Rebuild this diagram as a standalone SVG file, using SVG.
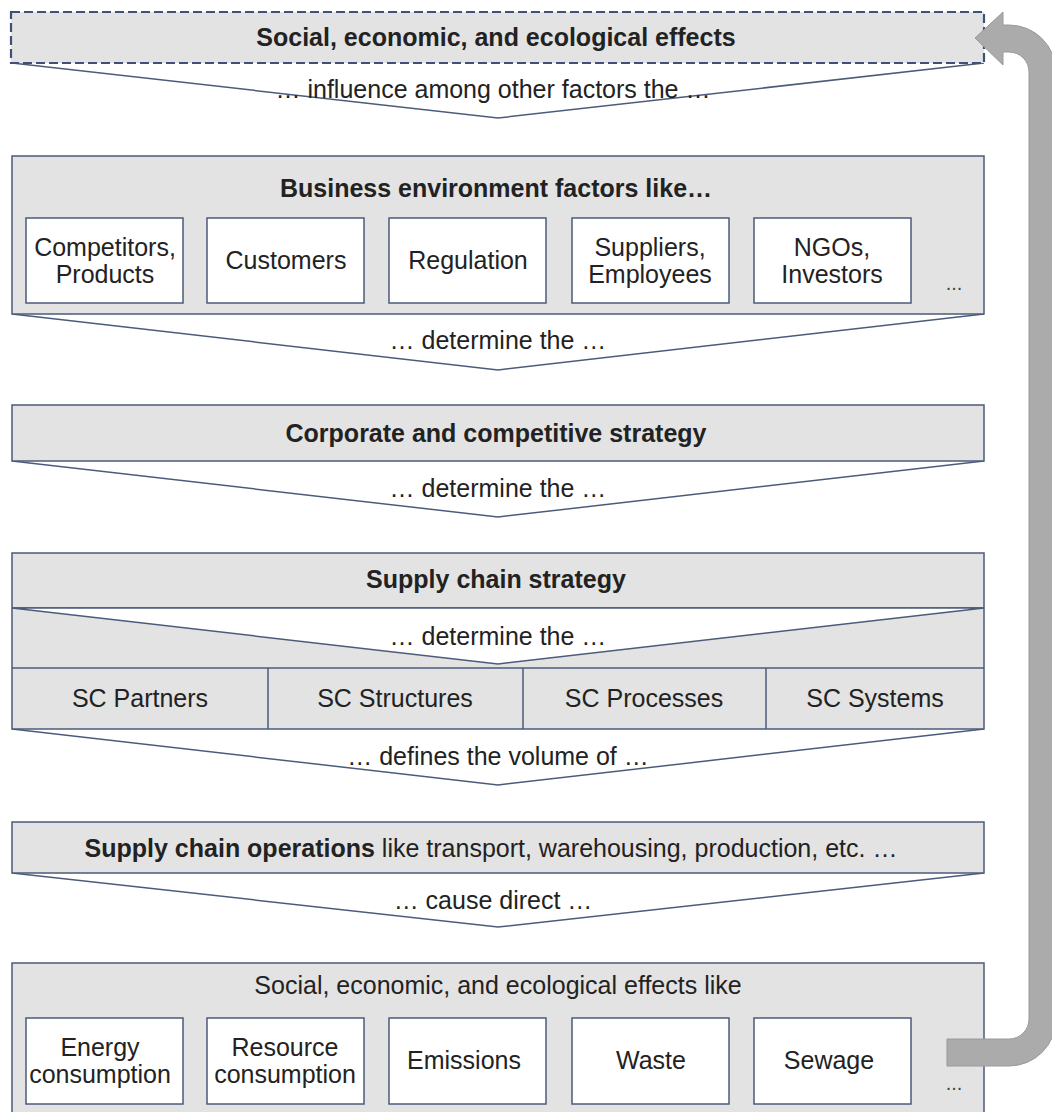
<svg xmlns="http://www.w3.org/2000/svg" width="1052" height="1112" viewBox="0 0 1052 1112">
  <style>
    .box { fill: #e3e3e3; stroke: #4b5b7a; stroke-width: 1.5; }
    .dash { fill: #e3e3e3; stroke: #3f5179; stroke-width: 2.2; stroke-dasharray: 9 4; }
    .item { fill: #ffffff; stroke: #4b5b7a; stroke-width: 1.5; }
    .line { fill: none; stroke: #4b5b7a; stroke-width: 1.5; }
    .chev { fill: #ffffff; stroke: #4b5b7a; stroke-width: 1.5; }
    text { font-family: "Liberation Sans", Arial, sans-serif; font-size: 25px; fill: #222222; text-anchor: middle; }
    .b { font-weight: bold; }
    .dots { font-size: 20px; fill: #444444; }
    .arrow { fill: #ababab; stroke: #9a9a9a; stroke-width: 1; }
  </style>

  <!-- downward chevrons between the layers -->
  <g id="connectors">
    <polyline class="chev" points="12,63 498,118 984,63"/>
    <polyline class="chev" points="12,314 498,370 984,314"/>
    <polyline class="chev" points="12,461 498,517 984,461"/>
    <polyline class="chev" points="12,729 498,785 984,729"/>
    <polyline class="chev" points="12,873 498,927 984,873"/>
    <text x="493" y="98">… influence among other factors the …</text>
    <text x="498" y="349">… determine the …</text>
    <text x="498" y="497">… determine the …</text>
    <text x="498" y="765">… defines the volume of …</text>
    <text x="493" y="909">… cause direct …</text>
  </g>

  <!-- top layer: effects fed back -->
  <g id="effects-top">
    <rect class="dash" x="11" y="12" width="973" height="51"/>
    <text class="b" x="496" y="46">Social, economic, and ecological effects</text>
  </g>

  <!-- business environment -->
  <g id="business-environment">
    <rect class="box" x="12" y="156" width="972" height="158"/>
    <text class="b" x="496" y="197">Business environment factors like…</text>
    <rect class="item" x="26" y="218" width="157" height="85"/>
    <text x="105" y="256">Competitors,</text>
    <text x="105" y="283">Products</text>
    <rect class="item" x="207" y="218" width="157" height="85"/>
    <text x="286" y="269">Customers</text>
    <rect class="item" x="389" y="218" width="157" height="85"/>
    <text x="468" y="269">Regulation</text>
    <rect class="item" x="572" y="218" width="157" height="85"/>
    <text x="650" y="256">Suppliers,</text>
    <text x="650" y="283">Employees</text>
    <rect class="item" x="754" y="218" width="157" height="85"/>
    <text x="832" y="256">NGOs,</text>
    <text x="832" y="283">Investors</text>
    <text class="dots" x="954" y="290">...</text>
  </g>

  <!-- corporate strategy -->
  <g id="corporate-strategy">
    <rect class="box" x="12" y="405" width="972" height="56"/>
    <text class="b" x="496" y="442">Corporate and competitive strategy</text>
  </g>

  <!-- supply chain strategy with its four fields -->
  <g id="supply-chain-strategy">
    <rect class="box" x="12" y="553" width="972" height="176"/>
    <text class="b" x="496" y="588">Supply chain strategy</text>
    <line class="line" x1="12" y1="608" x2="984" y2="608"/>
    <polygon class="chev" points="12,608 498,664 984,608"/>
    <text x="498" y="645">… determine the …</text>
    <line class="line" x1="12" y1="668" x2="984" y2="668"/>
    <line class="line" x1="268" y1="668" x2="268" y2="729"/>
    <line class="line" x1="523" y1="668" x2="523" y2="729"/>
    <line class="line" x1="766" y1="668" x2="766" y2="729"/>
    <text x="140" y="707">SC Partners</text>
    <text x="395" y="707">SC Structures</text>
    <text x="644" y="707">SC Processes</text>
    <text x="875" y="707">SC Systems</text>
  </g>

  <!-- supply chain operations -->
  <g id="supply-chain-operations">
    <rect class="box" x="12" y="822" width="972" height="51"/>
    <text x="491" y="857"><tspan class="b">Supply chain operations</tspan> like transport, warehousing, production, etc. …</text>
  </g>

  <!-- resulting effects -->
  <g id="effects-bottom">
    <rect class="box" x="12" y="963" width="972" height="160"/>
    <text x="498" y="994">Social, economic, and ecological effects like</text>
    <rect class="item" x="26" y="1018" width="157" height="86"/>
    <text x="100" y="1056">Energy</text>
    <text x="100" y="1083">consumption</text>
    <rect class="item" x="207" y="1018" width="157" height="86"/>
    <text x="285" y="1056">Resource</text>
    <text x="285" y="1083">consumption</text>
    <rect class="item" x="389" y="1018" width="157" height="86"/>
    <text x="464" y="1069">Emissions</text>
    <rect class="item" x="572" y="1018" width="157" height="86"/>
    <text x="651" y="1069">Waste</text>
    <rect class="item" x="754" y="1018" width="157" height="86"/>
    <text x="829" y="1069">Sewage</text>
    <text class="dots" x="954" y="1090">...</text>
  </g>

  <!-- feedback arrow from the bottom effects back to the top -->
  <g id="feedback-arrow">
    <path class="arrow" d="M947,1039 L1009,1039 A20,20 0 0 0 1029,1019 L1029,72 A20,20 0 0 0 1009,52 L1003,52 L1003,65 L975,38 L1003,12 L1003,25 L1009,25 A47,47 0 0 1 1056,72 L1056,1019 A47,47 0 0 1 1009,1066 L947,1066 Z"/>
  </g>
</svg>
